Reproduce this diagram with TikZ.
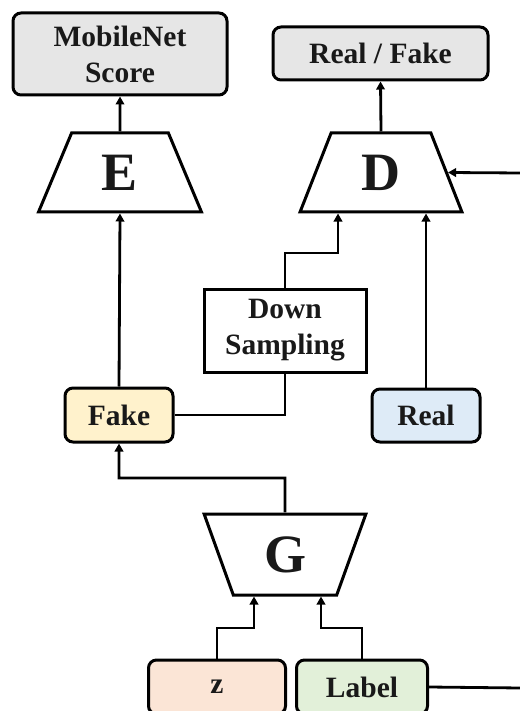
\documentclass[tikz,border=0pt]{standalone}
\usepackage{fontspec}
\setmainfont{Liberation Serif}
\usetikzlibrary{shapes.geometric,arrows.meta}
\definecolor{boxgray}{HTML}{E6E6E6}
\definecolor{fakefill}{HTML}{FFF2CC}
\definecolor{realfill}{HTML}{DEEBF7}
\definecolor{zfill}{HTML}{FBE5D6}
\definecolor{labelfill}{HTML}{E2F0D9}
\begin{document}
\begin{tikzpicture}[x=1pt,y=-1pt,
  txt/.style={font=\fontsize{29.5}{36}\selectfont\bfseries, align=center, text=black!90},
  rbox/.style={txt, draw=black, line width=3pt, rounded corners=8pt, inner sep=0pt},
  sbox/.style={txt, draw=black, line width=3pt, inner sep=0pt, fill=white},
  trap/.style={draw=black, line width=3pt, trapezium, trapezium stretches=true,
     inner sep=0pt, font=\fontsize{54}{60}\selectfont\bfseries, text=black!90},
  conn/.style={line width=2.8pt},
  arr/.style={conn, -{Triangle[length=8pt,width=8.5pt]}}
]
\useasboundingbox (0,0) rectangle (519,711);
% boxes
\node[rbox, fill=boxgray, minimum width=214pt, minimum height=82pt] (ms) at (120,54) {MobileNet\\Score};
\node[rbox, fill=boxgray, minimum width=215pt, minimum height=53pt] (rf) at (380.5,53.5) {Real / Fake};
\node[trap, minimum width=164pt, minimum height=79pt, trapezium left angle=70.8, trapezium right angle=70.8] (E) at (120,172.5) {E};
\node[trap, minimum width=162pt, minimum height=79pt, trapezium left angle=71.1, trapezium right angle=71.1] (D) at (381,172.5) {D};
\node[sbox, minimum width=162pt, minimum height=83pt] (ds) at (285,330.5) {Down\\Sampling};
\node[rbox, fill=fakefill, minimum width=108pt, minimum height=54pt] (fake) at (119,415) {Fake};
\node[rbox, fill=realfill, minimum width=108pt, minimum height=53pt] (real) at (426,415.5) {Real};
\node[trap, shape border rotate=180, minimum width=162pt, minimum height=81pt, trapezium left angle=71.9, trapezium right angle=71.9] (G) at (285,554.5) {G};
\node[rbox, fill=zfill, minimum width=137pt, minimum height=54pt] (z) at (217,687) {z};
\node[rbox, fill=labelfill, minimum width=131pt, minimum height=54pt] (lab) at (362,687) {Label};
% helper coordinates
\coordinate (rtop) at (521,173);
\coordinate (rbot) at (521,688);
\coordinate (dsbend) at (338,253);
\coordinate (zbend) at (254,628);
\coordinate (lbend) at (321,628);
% connectors
\draw[arr] (E.north) -- (ms.south);
\draw[arr] (D.north) -- (rf.south);
\draw[arr] (fake.north) -- (E.south);
\draw[arr] (real.north) -- (real.north |- D.south);
\draw[conn] (fake.east) -| (ds.south);
\draw[arr] (ds.north) |- (dsbend) -- (dsbend |- D.south);
\draw[arr] (G.north) -- (285,478) -| (fake.south);
\draw[arr] (z.north) |- (zbend) -- (zbend |- G.south);
\draw[arr] (lab.north) |- (lbend) -- (lbend |- G.south);
\draw[conn] (lab.east) -- (rbot);
\draw[arr] (rtop) -- (D.east);
\end{tikzpicture}
\end{document}
